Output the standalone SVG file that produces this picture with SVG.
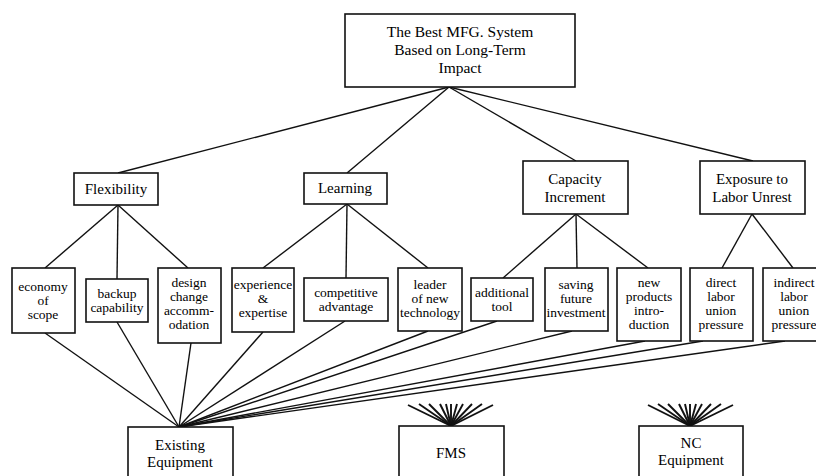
<svg xmlns="http://www.w3.org/2000/svg" width="816" height="476" viewBox="0 0 816 476">
<style>
.box{fill:#fff;stroke:#111;stroke-width:1.6}
.t{font-family:"Liberation Serif","Times New Roman",serif;fill:#000;text-anchor:middle}
.t1{font-size:15.5px}
.t2{font-size:15px}
.t3{font-size:13.5px}
.c line{stroke:#111;stroke-width:1.4}
.c .fan line{stroke-width:1.9}
</style>
<rect width="816" height="476" fill="#fff"/>
<g class="c" id="connectors">
<line x1="449" y1="87" x2="118" y2="173"/>
<line x1="449" y1="87" x2="347" y2="173"/>
<line x1="449" y1="87" x2="576" y2="161"/>
<line x1="449" y1="87" x2="753" y2="161"/>
<line x1="118" y1="205" x2="45" y2="268"/>
<line x1="118" y1="205" x2="117" y2="279"/>
<line x1="118" y1="205" x2="188" y2="268"/>
<line x1="347" y1="204" x2="263" y2="268"/>
<line x1="347" y1="204" x2="346" y2="278"/>
<line x1="347" y1="204" x2="428" y2="268"/>
<line x1="576" y1="214" x2="503" y2="278"/>
<line x1="576" y1="214" x2="577" y2="268"/>
<line x1="576" y1="214" x2="648" y2="268"/>
<line x1="752" y1="214" x2="722" y2="268"/>
<line x1="752" y1="214" x2="793" y2="268"/>
<line x1="45" y1="333" x2="179" y2="427"/>
<line x1="117" y1="322" x2="179" y2="427"/>
<line x1="191" y1="343" x2="179" y2="427"/>
<line x1="263" y1="332" x2="179" y2="427"/>
<line x1="345" y1="321" x2="179" y2="427"/>
<line x1="428" y1="331" x2="179" y2="427"/>
<line x1="497" y1="321" x2="179" y2="427"/>
<line x1="572" y1="331" x2="179" y2="427"/>
<line x1="645" y1="341" x2="179" y2="427"/>
<line x1="703" y1="341" x2="179" y2="427"/>
<line x1="785" y1="341" x2="179" y2="427"/>
<g class="fan" id="fan-fms">
<line x1="451" y1="426" x2="408" y2="405"/>
<line x1="451" y1="426" x2="419" y2="404"/>
<line x1="451" y1="426" x2="429" y2="404"/>
<line x1="451" y1="426" x2="440" y2="404"/>
<line x1="451" y1="426" x2="446" y2="404"/>
<line x1="451" y1="426" x2="451" y2="404"/>
<line x1="451" y1="426" x2="457" y2="404"/>
<line x1="451" y1="426" x2="463" y2="404"/>
<line x1="451" y1="426" x2="472" y2="404"/>
<line x1="451" y1="426" x2="482" y2="404"/>
<line x1="451" y1="426" x2="493" y2="405"/>
</g>
<g class="fan" id="fan-nc">
<line x1="690" y1="426" x2="648" y2="405"/>
<line x1="690" y1="426" x2="658" y2="404"/>
<line x1="690" y1="426" x2="668" y2="404"/>
<line x1="690" y1="426" x2="679" y2="404"/>
<line x1="690" y1="426" x2="685" y2="404"/>
<line x1="690" y1="426" x2="690" y2="404"/>
<line x1="690" y1="426" x2="696" y2="404"/>
<line x1="690" y1="426" x2="702" y2="404"/>
<line x1="690" y1="426" x2="711" y2="404"/>
<line x1="690" y1="426" x2="721" y2="404"/>
<line x1="690" y1="426" x2="733" y2="405"/>
</g>
</g>
<g id="goal">
<rect class="box" x="345" y="14" width="230" height="73"/>
<text class="t t1" x="460" y="37">The Best MFG. System</text>
<text class="t t1" x="460" y="55">Based on Long-Term</text>
<text class="t t1" x="460" y="73">Impact</text>
</g>
<g id="flexibility">
<rect class="box" x="74" y="173" width="84" height="32"/>
<text class="t t2" x="116" y="194">Flexibility</text>
</g>
<g id="learning">
<rect class="box" x="304" y="173" width="83" height="31"/>
<text class="t t2" x="345" y="193">Learning</text>
</g>
<g id="capacity">
<rect class="box" x="523" y="161" width="105" height="53"/>
<text class="t t2" x="575" y="184">Capacity</text>
<text class="t t2" x="575" y="202">Increment</text>
</g>
<g id="exposure">
<rect class="box" x="700" y="161" width="105" height="53"/>
<text class="t t2" x="752" y="184">Exposure to</text>
<text class="t t2" x="752" y="202">Labor Unrest</text>
</g>
<g id="economy">
<rect class="box" x="12" y="268" width="63" height="65"/>
<text class="t t3" x="43" y="291">economy</text>
<text class="t t3" x="43" y="305">of</text>
<text class="t t3" x="43" y="319">scope</text>
</g>
<g id="backup">
<rect class="box" x="86" y="279" width="62" height="43"/>
<text class="t t3" x="117" y="298">backup</text>
<text class="t t3" x="117" y="312">capability</text>
</g>
<g id="design">
<rect class="box" x="158" y="268" width="63" height="75"/>
<text class="t t3" x="189" y="287">design</text>
<text class="t t3" x="189" y="301">change</text>
<text class="t t3" x="189" y="315">accomm-</text>
<text class="t t3" x="189" y="329">odation</text>
</g>
<g id="experience">
<rect class="box" x="232" y="268" width="62" height="64"/>
<text class="t t3" x="263" y="289">experience</text>
<text class="t t3" x="263" y="303">&amp;</text>
<text class="t t3" x="263" y="317">expertise</text>
</g>
<g id="competitive">
<rect class="box" x="304" y="278" width="84" height="43"/>
<text class="t t3" x="346" y="297">competitive</text>
<text class="t t3" x="346" y="311">advantage</text>
</g>
<g id="leader">
<rect class="box" x="398" y="268" width="64" height="63"/>
<text class="t t3" x="430" y="289">leader</text>
<text class="t t3" x="430" y="303">of new</text>
<text class="t t3" x="430" y="317">technology</text>
</g>
<g id="additional">
<rect class="box" x="471" y="278" width="62" height="43"/>
<text class="t t3" x="502" y="297">additional</text>
<text class="t t3" x="502" y="311">tool</text>
</g>
<g id="saving">
<rect class="box" x="545" y="268" width="63" height="63"/>
<text class="t t3" x="576" y="289">saving</text>
<text class="t t3" x="576" y="303">future</text>
<text class="t t3" x="576" y="317">investment</text>
</g>
<g id="newproducts">
<rect class="box" x="617" y="268" width="64" height="73"/>
<text class="t t3" x="649" y="287">new</text>
<text class="t t3" x="649" y="301">products</text>
<text class="t t3" x="649" y="315">intro-</text>
<text class="t t3" x="649" y="329">duction</text>
</g>
<g id="direct">
<rect class="box" x="690" y="268" width="63" height="73"/>
<text class="t t3" x="721" y="287">direct</text>
<text class="t t3" x="721" y="301">labor</text>
<text class="t t3" x="721" y="315">union</text>
<text class="t t3" x="721" y="329">pressure</text>
</g>
<g id="indirect">
<rect class="box" x="763" y="268" width="63" height="73"/>
<text class="t t3" x="794" y="287">indirect</text>
<text class="t t3" x="794" y="301">labor</text>
<text class="t t3" x="794" y="315">union</text>
<text class="t t3" x="794" y="329">pressure</text>
</g>
<g id="existing">
<rect class="box" x="128" y="427" width="105" height="60"/>
<text class="t t2" x="180" y="450">Existing</text>
<text class="t t2" x="180" y="467">Equipment</text>
</g>
<g id="fms">
<rect class="box" x="399" y="426" width="105" height="60"/>
<text class="t t2" x="451" y="458">FMS</text>
</g>
<g id="nc">
<rect class="box" x="639" y="426" width="104" height="60"/>
<text class="t t2" x="691" y="448">NC</text>
<text class="t t2" x="691" y="465">Equipment</text>
</g>
</svg>
